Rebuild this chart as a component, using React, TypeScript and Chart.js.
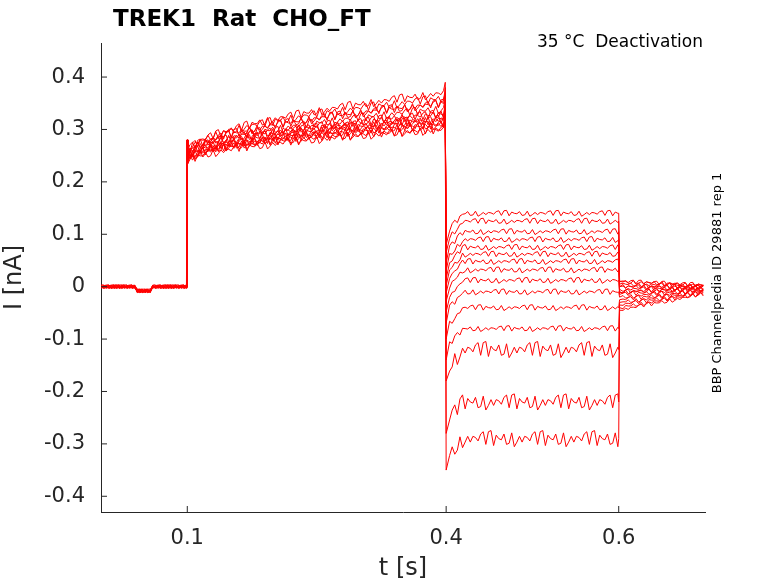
import React, { useEffect, useRef } from "react";
import { Chart, registerables } from "chart.js";
Chart.register(...registerables);

const xTicks = [0.1, 0.4, 0.6];
const yTicks = [-0.4, -0.3, -0.2, -0.1, 0, 0.1, 0.2, 0.3, 0.4];
// per trace: [activation start at 0.1, activation end at 0.4, deactivation level, tail level at 0.6]
const actStart = [0.235, 0.24, 0.245, 0.25, 0.24, 0.235, 0.245, 0.25, 0.24, 0.245, 0.255, 0.25, 0.245, 0.26, 0.25];
const actEnd = [0.30, 0.31, 0.32, 0.33, 0.31, 0.32, 0.34, 0.35, 0.33, 0.31, 0.36, 0.37, 0.30, 0.32, 0.35];
const deactLevel = [0.14, 0.125, 0.105, 0.09, 0.075, 0.062, 0.048, 0.032, 0.012, -0.01, -0.04, -0.08, -0.12, -0.22, -0.29];
const tailLevel = [0.01, 0.01, 0.005, 0.0, 0.0, -0.005, -0.01, -0.01, -0.015, -0.02, -0.025, -0.03, -0.035, -0.04, -0.045];
// hand-read ripple pattern of the traces (nA)
const ripple = [0.004, -0.003, 0.006, -0.005, 0.002, 0.007, -0.004, 0.001, -0.006, 0.005, -0.002, 0.003, -0.007, 0.004, 0.0, -0.003, 0.006, -0.001, 0.002, -0.005];

function trace(i: number) {
  const pts: { x: number; y: number }[] = [];
  const r = (k: number, s: number) => ripple[(k * 3 + i * 7) % ripple.length] * s;
  let k = 0;
  for (let t = 0; t < 0.1; t += 0.003) {
    const dip = t > 0.04 && t < 0.06 ? -0.008 : 0;
    pts.push({ x: t, y: dip + r(k++, 0.5) });
  }
  pts.push({ x: 0.0995, y: 0 });
  pts.push({ x: 0.1, y: 0.28 });
  pts.push({ x: 0.1005, y: actStart[i] });
  for (let t = 0.103; t < 0.4; t += 0.003) {
    const f = (t - 0.1) / 0.3;
    const e = actStart[i] + (actEnd[i] - actStart[i]) * Math.sqrt(f);
    pts.push({ x: t, y: e + r(k++, 1.2) });
  }
  pts.push({ x: 0.399, y: actEnd[i] + 0.02 });
  pts.push({ x: 0.4, y: i === 14 ? -0.35 : deactLevel[i] - 0.06 });
  for (let t = 0.404; t < 0.6; t += 0.003) {
    const s = deactLevel[i] < -0.1 ? 2.2 : 0.8;
    const relax = t < 0.42 ? (deactLevel[i] - 0.03) + (0.03 * (t - 0.404)) / 0.016 : deactLevel[i];
    pts.push({ x: t, y: relax + r(k++, s) });
  }
  pts.push({ x: 0.6, y: deactLevel[i] });
  pts.push({ x: 0.601, y: tailLevel[i] });
  for (let t = 0.605; t <= 0.7; t += 0.003) {
    const f = (t - 0.6) / 0.1;
    pts.push({ x: t, y: tailLevel[i] * (1 - 0.7 * f) + r(k++, 0.6) });
  }
  return pts;
}

export default function App() {
  const ref = useRef<HTMLCanvasElement>(null);
  useEffect(() => {
    const font = "DejaVu Sans";
    const texts = {
      id: "texts",
      afterDraw(c: any) {
        const ctx = c.ctx;
        const x = c.scales.x, y = c.scales.y;
        ctx.save();
        ctx.strokeStyle = "#262626";
        ctx.lineWidth = 1;
        xTicks.forEach((v) => { const p = x.getPixelForValue(v); ctx.beginPath(); ctx.moveTo(p, 512); ctx.lineTo(p, 506); ctx.stroke(); });
        yTicks.forEach((v) => { const p = y.getPixelForValue(v); ctx.beginPath(); ctx.moveTo(101, p); ctx.lineTo(107, p); ctx.stroke(); });
        ctx.fillStyle = "#000";
        ctx.font = `bold 23px ${font}`;
        ctx.textBaseline = "alphabetic";
        ctx.fillText("TREK1  Rat  CHO_FT", 113, 26);
        ctx.font = `17px ${font}`;
        ctx.textAlign = "right";
        ctx.fillText("35 °C  Deactivation", 703, 47);
        ctx.translate(721, 283);
        ctx.rotate(-Math.PI / 2);
        ctx.textAlign = "center";
        ctx.font = `13px ${font}`;
        ctx.fillText("BBP Channelpedia ID 29881 rep 1", 0, 0);
        ctx.restore();
      },
    };
    const chart = new Chart(ref.current!, {
      type: "line",
      data: {
        datasets: deactLevel.map((_, i) => ({
          data: trace(i), borderColor: "#ff0000", borderWidth: 1, pointRadius: 0, tension: 0,
        })),
      },
      options: {
        animation: false, responsive: false, maintainAspectRatio: false,
        plugins: { legend: { display: false }, tooltip: { enabled: false } },
        layout: { padding: { top: 43, right: 73, left: 0, bottom: 0 } },
        scales: {
          x: {
            type: "linear", min: 0, max: 0.7,
            afterBuildTicks: (s: any) => { s.ticks = xTicks.map((v) => ({ value: v })); },
            afterFit: (s: any) => { s.height = 71; },
            grid: { display: false },
            border: { color: "#262626" },
            ticks: { font: { family: font, size: 21 }, color: "#262626", maxRotation: 0, padding: 6 },
            title: { display: true, text: "t [s]", font: { family: font, size: 24 }, color: "#262626", padding: 0 },
          },
          y: {
            min: -0.43, max: 0.465,
            afterBuildTicks: (s: any) => { s.ticks = yTicks.map((v) => ({ value: v })); },
            afterFit: (s: any) => { s.width = 101; },
            grid: { display: false },
            border: { color: "#262626" },
            ticks: { font: { family: font, size: 21 }, color: "#262626", padding: 8,
              callback: (v: any) => String(Math.round(v * 10) / 10) },
            title: { display: true, text: "I [nA]", font: { family: font, size: 24 }, color: "#262626", padding: 0 },
          },
        },
      },
      plugins: [texts],
    });
    return () => chart.destroy();
  }, []);
  return (
    <div style={{ position: "fixed", left: 0, top: 0, background: "#fff" }}>
      <canvas ref={ref} width={778} height={583} style={{ display: "block" }} />
    </div>
  );
}
